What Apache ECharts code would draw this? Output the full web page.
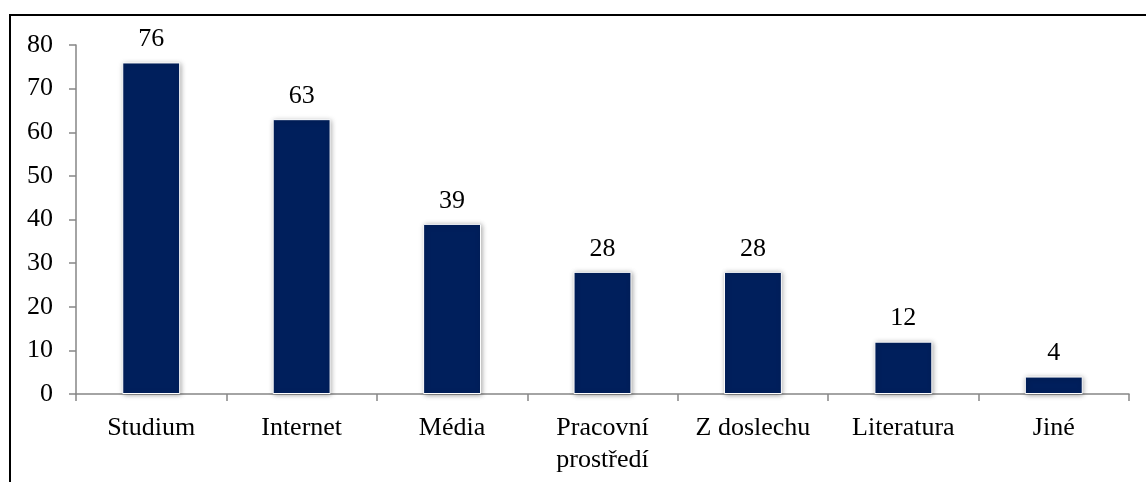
<!DOCTYPE html>
<html>
<head>
<meta charset="utf-8">
<script src="https://cdn.jsdelivr.net/npm/echarts@6/dist/echarts.min.js"></script>
<style>
  html, body { margin: 0; padding: 0; background: #fff; }
  #chart { width: 1146px; height: 482px; }
</style>
</head>
<body>
<div id="chart"></div>
<script>
// Zdroje informací – počet odpovědí
const categories = ['Studium', 'Internet', 'Média', 'Pracovní\nprostředí', 'Z doslechu', 'Literatura', 'Jiné'];
const counts = [76, 63, 39, 28, 28, 12, 4];
const yTicks = { min: 0, max: 80, interval: 10 };

const font = '"Liberation Serif", "Times New Roman", serif';
const chart = echarts.init(document.getElementById('chart'));

chart.setOption({
  animation: false,
  backgroundColor: '#fff',
  graphic: [{
    type: 'rect',
    shape: { x: 10, y: 15, width: 1200, height: 600 },
    style: { fill: 'none', stroke: '#000', lineWidth: 2 },
    silent: true
  }],
  grid: { left: 76, right: 17, top: 45, bottom: 88 },
  xAxis: {
    type: 'category',
    data: categories,
    axisLine: { lineStyle: { color: '#868686', width: 1.5 } },
    axisTick: { show: true, length: 7, lineStyle: { color: '#868686', width: 1.5 } },
    axisLabel: {
      color: '#000', fontFamily: font, fontSize: 26, lineHeight: 32,
      margin: 18, interval: 0
    }
  },
  yAxis: {
    type: 'value',
    min: yTicks.min, max: yTicks.max, interval: yTicks.interval,
    splitLine: { show: false },
    axisLine: { show: true, lineStyle: { color: '#868686', width: 1.5 } },
    axisTick: { show: true, length: 7, lineStyle: { color: '#868686', width: 1.5 } },
    axisLabel: { color: '#000', fontFamily: font, fontSize: 26, margin: 23 }
  },
  series: [{
    type: 'bar',
    data: counts,
    barWidth: '38.5%',
    itemStyle: {
      color: '#001f5c',
      borderColor: '#ffffff',
      borderWidth: 1,
      shadowColor: 'rgba(0,0,0,0.35)',
      shadowBlur: 5,
      shadowOffsetX: 1,
      shadowOffsetY: 1
    },
    label: {
      show: true, position: 'top', distance: 10,
      color: '#000', fontFamily: font, fontSize: 26
    }
  }]
});
</script>
</body>
</html>
